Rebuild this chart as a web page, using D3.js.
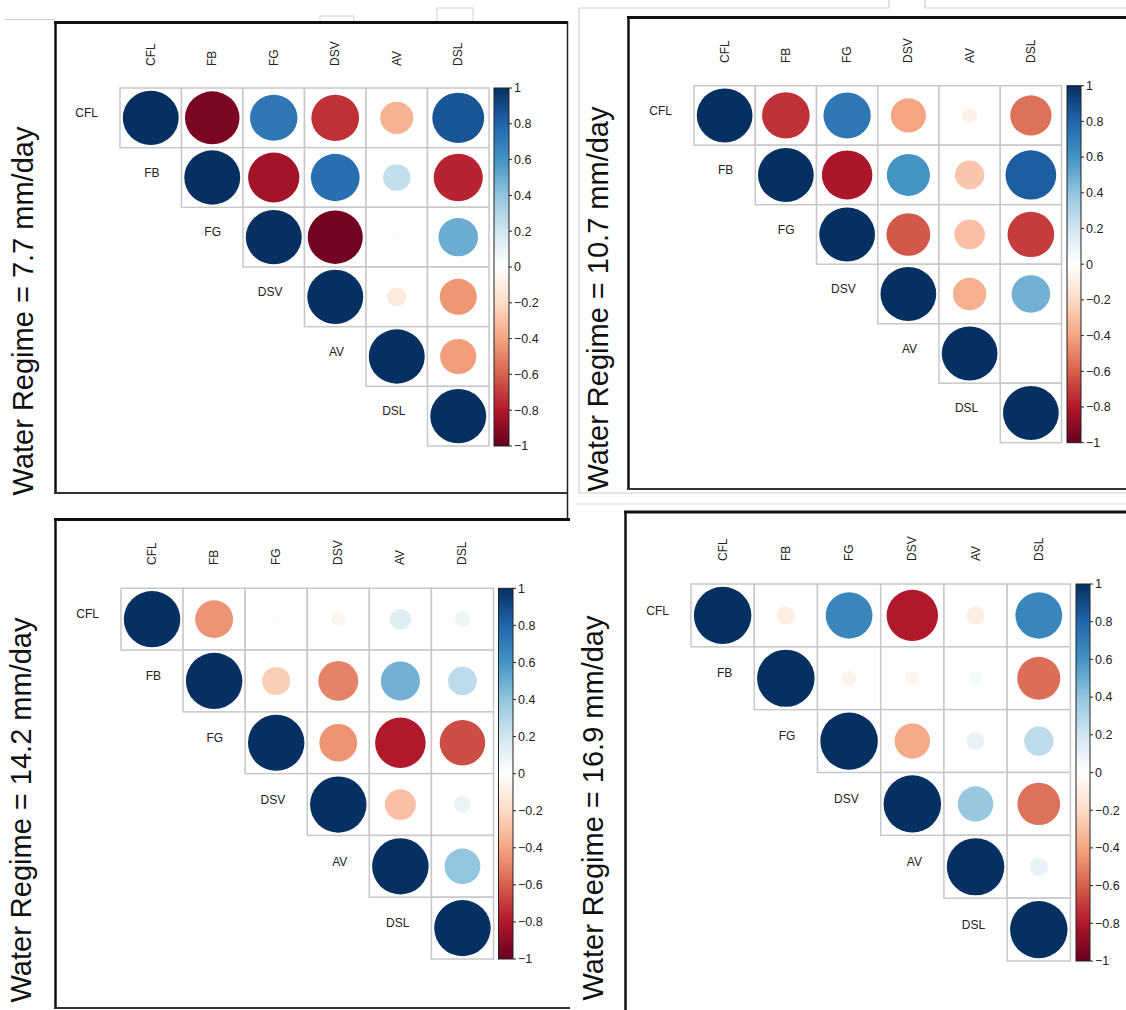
<!DOCTYPE html>
<html><head><meta charset="utf-8">
<script src="https://cdn.jsdelivr.net/npm/d3@7"></script>
<style>html,body{margin:0;padding:0;background:#fff;}svg{display:block;}</style>
</head><body>
<svg id="chart" width="1126" height="1010"></svg>
<script>
// ---------------- DATA ----------------
const variables = ["CFL", "FB", "FG", "DSV", "AV", "DSL"];
const panelTitles = ["Water Regime = 7.7 mm/day", "Water Regime = 10.7 mm/day",
                     "Water Regime = 14.2 mm/day", "Water Regime = 16.9 mm/day"];
// upper-triangle rows (row i holds columns i..5)
const corr_7_7 = [
  [1, -0.95, 0.72, -0.73, -0.35, 0.86],
  [1, -0.84, 0.76, 0.24, -0.77],
  [1, -0.97, -0.02, 0.5],
  [1, -0.12, -0.44],
  [1, -0.42],
  [1]
];
const corr_10_7 = [
  [1, -0.73, 0.72, -0.4, -0.08, -0.55],
  [1, -0.82, 0.6, -0.28, 0.83],
  [1, -0.62, -0.3, -0.7],
  [1, -0.36, 0.48],
  [1, -0.02],
  [1]
];
const corr_14_2 = [
  [1, -0.45, 0.02, -0.06, 0.14, 0.08],
  [1, -0.25, -0.5, 0.48, 0.26],
  [1, -0.45, -0.8, -0.65],
  [1, -0.3, 0.09],
  [1, 0.4],
  [1]
];
const corr_16_9 = [
  [1, -0.1, 0.66, -0.8, -0.1, 0.66],
  [1, -0.07, -0.06, 0.05, -0.56],
  [1, -0.38, 0.1, 0.26],
  [1, 0.38, -0.55],
  [1, 0.1],
  [1]
];
const colorbarTicks = [1, 0.8, 0.6, 0.4, 0.2, 0, -0.2, -0.4, -0.6, -0.8, -1];
const colorbarTickLabels = ["1", "0.8", "0.6", "0.4", "0.2", "0", "\u22120.2", "\u22120.4", "\u22120.6", "\u22120.8", "\u22121"];
const paletteRdBu = ["#67001F", "#B2182B", "#D6604D", "#F4A582", "#FDDBC7", "#FFFFFF",
                     "#D1E5F0", "#92C5DE", "#4393C3", "#2166AC", "#053061"];

// ---------------- LAYOUT ----------------
const panels = [
  { data: corr_7_7,  title: panelTitles[0], gx: [120, 489],   gy: [88, 446],   cb: [494, 509],     colLabelY: 66,  titleX: 33,  titleCY: 311 },
  { data: corr_10_7, title: panelTitles[1], gx: [694, 1061.5], gy: [85.7, 442.7], cb: [1067, 1081], colLabelY: 63,  titleX: 608, titleCY: 299 },
  { data: corr_14_2, title: panelTitles[2], gx: [121, 493.5], gy: [588.3, 959], cb: [498.5, 513],  colLabelY: 565, titleX: 31,  titleCY: 810 },
  { data: corr_16_9, title: panelTitles[3], gx: [691, 1070.4], gy: [584, 961],  cb: [1076, 1090],  colLabelY: 561, titleX: 603, titleCY: 808 }
];

const svg = d3.select("#chart");
const FONT = "'Liberation Sans', Arial, Helvetica, sans-serif";

const color = d3.scaleLinear()
  .domain(d3.range(paletteRdBu.length).map(i => -1 + i * 2 / (paletteRdBu.length - 1)))
  .range(paletteRdBu)
  .interpolate(d3.interpolateRgb);

// shared vertical gradient (1 at top, -1 at bottom)
const defs = svg.append("defs");
const grad = defs.append("linearGradient").attr("id", "cbGrad")
  .attr("x1", 0).attr("y1", 0).attr("x2", 0).attr("y2", 1);
d3.range(0, 1.0001, 0.05).forEach(t => {
  grad.append("stop").attr("offset", t).attr("stop-color", color(1 - 2 * t));
});

// ---------------- FRAMES (screenshot borders) ----------------
const frames = svg.append("g");
function ln(x1, y1, x2, y2, col, w) {
  frames.append("line").attr("x1", x1).attr("y1", y1).attr("x2", x2).attr("y2", y2)
    .attr("stroke", col).attr("stroke-width", w);
}
// top-left panel
ln(5, 19.5, 55, 19.5, "#cfcfcf", 1.2);
frames.append("rect").attr("x", 320).attr("y", 16).attr("width", 34).attr("height", 6)
  .attr("fill", "none").attr("stroke", "#cfcfcf").attr("stroke-width", 1);
frames.append("rect").attr("x", 437).attr("y", 8).attr("width", 36).attr("height", 14)
  .attr("fill", "none").attr("stroke", "#cfcfcf").attr("stroke-width", 1);
ln(54, 22.5, 568, 22.5, "#111", 3);
ln(55.5, 22, 55.5, 493, "#111", 2.5);
ln(54, 493, 568, 493, "#333", 2);
ln(567.5, 21, 567.5, 520, "#222", 1.5);
// top-right panel
ln(579, 8, 889, 8, "#cfcfcf", 1.2);
ln(889, 0, 889, 8, "#cfcfcf", 1.2);
ln(925, 0, 925, 8, "#cfcfcf", 1.2);
ln(925, 8, 1126, 8, "#cfcfcf", 1.2);
ln(579, 8, 579, 493, "#cfcfcf", 1.2);
ln(579, 493, 1126, 493, "#cfcfcf", 1.2);
ln(627, 17.5, 1126, 17.5, "#111", 3);
ln(628.5, 17, 628.5, 489, "#111", 2.5);
ln(627, 489, 1126, 489, "#333", 2);
// bottom-left panel
ln(54, 519.5, 570, 519.5, "#111", 3);
ln(55.5, 519, 55.5, 1008, "#111", 2.5);
ln(54, 1008, 570, 1008, "#333", 2);
// bottom-right panel
ln(575, 504, 1126, 504, "#d8d8d8", 1.2);
ln(624, 512, 1126, 512, "#111", 3);
ln(625.5, 511, 625.5, 1010, "#111", 2.5);

// ---------------- PANELS ----------------
panels.forEach(p => {
  const g = svg.append("g");
  const x = d3.scaleBand().domain(variables).range(p.gx);
  const y = d3.scaleBand().domain(variables).range(p.gy);
  const cw = x.bandwidth(), ch = y.bandwidth();
  const rScale = d3.scaleSqrt().domain([0, 1]).range([0, 0.455]);

  const cells = [];
  p.data.forEach((row, i) => row.forEach((v, k) => {
    cells.push({ r: variables[i], c: variables[i + k], v: v });
  }));

  // grid cells
  g.selectAll("rect.cell").data(cells).join("rect").attr("class", "cell")
    .attr("x", d => x(d.c)).attr("y", d => y(d.r))
    .attr("width", cw).attr("height", ch)
    .attr("fill", "#fff").attr("stroke", "#c8c8c8").attr("stroke-width", 1.5);

  // circles
  g.selectAll("ellipse.mark").data(cells).join("ellipse").attr("class", "mark")
    .attr("cx", d => x(d.c) + cw / 2).attr("cy", d => y(d.r) + ch / 2)
    .attr("rx", d => rScale(Math.abs(d.v)) * cw)
    .attr("ry", d => rScale(Math.abs(d.v)) * ch)
    .attr("fill", d => color(d.v));

  // column labels (rotated)
  g.selectAll("text.col").data(variables).join("text").attr("class", "col")
    .attr("transform", d => `translate(${x(d) + cw / 2 + 4},${p.colLabelY}) rotate(-90)`)
    .attr("text-anchor", "start")
    .attr("font-family", FONT).attr("font-size", 12).attr("fill", "#222")
    .text(d => d);

  // row labels (left of diagonal cell)
  g.selectAll("text.row").data(variables).join("text").attr("class", "row")
    .attr("x", d => x(d) - 22)
    .attr("y", d => y(d) + ch / 2 - 5)
    .attr("dy", "0.35em")
    .attr("text-anchor", "end")
    .attr("font-family", FONT).attr("font-size", 12).attr("fill", "#222")
    .text(d => d);

  // colorbar
  const cbScale = d3.scaleLinear().domain([1, -1]).range(p.gy);
  g.append("rect").attr("x", p.cb[0]).attr("y", p.gy[0])
    .attr("width", p.cb[1] - p.cb[0]).attr("height", p.gy[1] - p.gy[0])
    .attr("fill", "url(#cbGrad)").attr("stroke", "#222").attr("stroke-width", 1);
  const tg = g.selectAll("g.tick").data(colorbarTicks).join("g").attr("class", "tick")
    .attr("transform", d => `translate(${p.cb[1]},${cbScale(d)})`);
  tg.append("line").attr("x1", 0).attr("x2", 3).attr("stroke", "#222").attr("stroke-width", 1);
  tg.append("text").attr("x", 5).attr("dy", "0.35em")
    .attr("font-family", FONT).attr("font-size", 12.5).attr("fill", "#222")
    .text((d, i) => colorbarTickLabels[i]);

  // panel title (rotated)
  svg.append("text")
    .attr("transform", `translate(${p.titleX},${p.titleCY}) rotate(-90)`)
    .attr("text-anchor", "middle")
    .attr("font-family", FONT).attr("font-size", 29).attr("fill", "#111")
    .text(p.title);
});
</script>
</body></html>
